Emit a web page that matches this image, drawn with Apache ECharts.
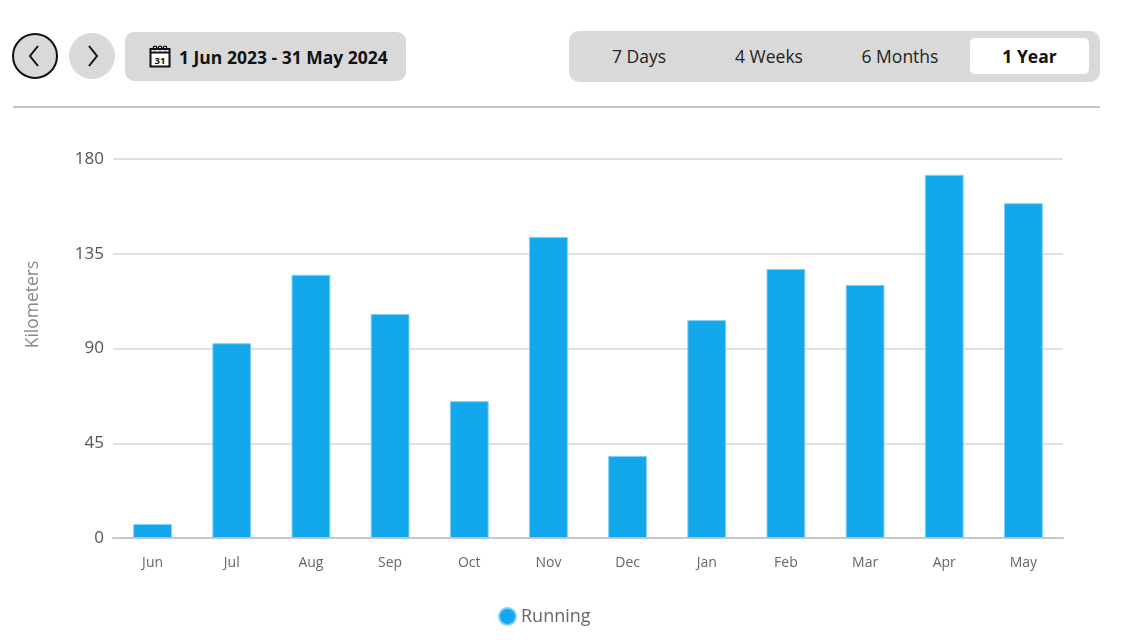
<!DOCTYPE html>
<html>
<head>
<meta charset="utf-8">
<title>Running - 1 Year</title>
<script src="https://cdn.jsdelivr.net/npm/echarts@6/dist/echarts.min.js"></script>
<style>
    html, body { margin: 0; padding: 0; background: #fff; font-family: "Open Sans", sans-serif; }
    #page { position: relative; width: 1132px; height: 640px; overflow: hidden; }
    #chart { position: absolute; left: 0; top: 0; width: 1132px; height: 640px; }
    .navBtn { position: absolute; top: 33px; width: 46px; height: 46px; border-radius: 50%; box-sizing: border-box;
        background: #d9d9d9; display: flex; align-items: center; justify-content: center; z-index: 2; }
    .navBtn.prev { left: 12px; border: 2px solid #111; }
    .navBtn.next { left: 69px; }
    .dateBox { position: absolute; left: 125px; top: 32px; width: 281px; height: 49px; border-radius: 9px; background: #d9d9d9;
        display: flex; align-items: center; z-index: 2; font-size: 17.5px; font-weight: bold; color: #111; }
    .dateBox svg { margin-left: 24px; margin-right: 8px; }
    .tabs { position: absolute; left: 569px; top: 31px; width: 531px; height: 51px; border-radius: 10px; background: #d9d9d9; z-index: 2; }
    .tab { position: absolute; top: 7px; height: 36px; line-height: 36px; text-align: center; font-size: 17.5px; color: #222; }
    .tab.active { background: #fff; border-radius: 5px; font-weight: bold; color: #111; }
    .divider { position: absolute; left: 13px; top: 106px; width: 1087px; height: 2px; background: #c4c4c4; z-index: 2; }
</style>
</head>
<body>
<div id="page">
    <div id="chart"></div>
    <!--顶部导航-->
    <div class="navBtn prev">
        <svg width="20" height="24" viewBox="0 0 20 24"><polyline points="13,2 5,12 13,22" fill="none" stroke="#111" stroke-width="2"/></svg>
    </div>
    <div class="navBtn next">
        <svg width="20" height="24" viewBox="0 0 20 24"><polyline points="7,2 15,12 7,22" fill="none" stroke="#111" stroke-width="2"/></svg>
    </div>
    <div class="dateBox">
        <svg width="22" height="23" viewBox="0 0 22 23">
            <rect x="1.5" y="4" width="19" height="17.5" fill="#fff" stroke="#111" stroke-width="2"/>
            <line x1="1.5" y1="7.5" x2="20.5" y2="7.5" stroke="#111" stroke-width="2"/>
            <circle cx="6" cy="3" r="1.8" fill="none" stroke="#111" stroke-width="1.3"/>
            <circle cx="11" cy="3" r="1.8" fill="none" stroke="#111" stroke-width="1.3"/>
            <circle cx="16" cy="3" r="1.8" fill="none" stroke="#111" stroke-width="1.3"/>
            <text x="11" y="18.5" text-anchor="middle" font-size="9.5" font-weight="bold" font-family="Open Sans" fill="#111">31</text>
        </svg>
        <span>1 Jun 2023 - 31 May 2024</span>
    </div>
    <div class="tabs">
        <div class="tab" style="left:10px;width:120px;">7 Days</div>
        <div class="tab" style="left:140px;width:120px;">4 Weeks</div>
        <div class="tab" style="left:271px;width:120px;">6 Months</div>
        <div class="tab active" style="left:401px;width:119px;">1 Year</div>
    </div>
    <div class="divider"></div>
</div>
<script>
    //月份
    var months = ['Jun', 'Jul', 'Aug', 'Sep', 'Oct', 'Nov', 'Dec', 'Jan', 'Feb', 'Mar', 'Apr', 'May'];
    //每月跑步距离(公里)
    var runningKm = [6.6, 92.5, 125, 106.4, 65, 143, 39, 103.5, 127.8, 120.2, 172.5, 159];
    //y轴刻度
    var yTicks = [0, 45, 90, 135, 180];

    var chart = echarts.init(document.getElementById('chart'));
    var option = {
        animation: false,
        textStyle: { fontFamily: 'Open Sans' },
        grid: { left: 113, right: 69, top: 159, bottom: 102 },
        legend: {
            bottom: 9,
            left: 493,
            icon: 'circle',
            itemWidth: 17,
            itemHeight: 17,
            itemGap: 4,
            textStyle: { color: '#666', fontSize: 18, fontFamily: 'Open Sans' },
            data: ['Running']
        },
        xAxis: {
            type: 'category',
            data: months,
            axisLine: { lineStyle: { color: '#c8c8c8', width: 2 } },
            axisTick: { alignWithLabel: true, length: 6, lineStyle: { color: '#c8c8c8', width: 1 } },
            axisLabel: { color: '#666', fontSize: 14, margin: 18 }
        },
        yAxis: {
            type: 'value',
            min: yTicks[0],
            max: yTicks[yTicks.length - 1],
            interval: yTicks[1] - yTicks[0],
            name: 'Kilometers',
            nameLocation: 'middle',
            nameGap: 71,
            nameTextStyle: { color: '#888', fontSize: 17.5, padding: [0, 0, 0, 88] },
            axisLine: { show: false },
            axisTick: { show: false },
            axisLabel: { color: '#555', fontSize: 17, margin: 9 },
            splitLine: { lineStyle: { color: '#d6d6d6', width: 1.5 } }
        },
        series: [{
            name: 'Running',
            type: 'bar',
            data: runningKm,
            barWidth: '49%',
            itemStyle: { color: '#12a8eb', borderColor: '#7fd0f5', borderWidth: 1 }
        }]
    };
    chart.setOption(option);
</script>
</body>
</html>
